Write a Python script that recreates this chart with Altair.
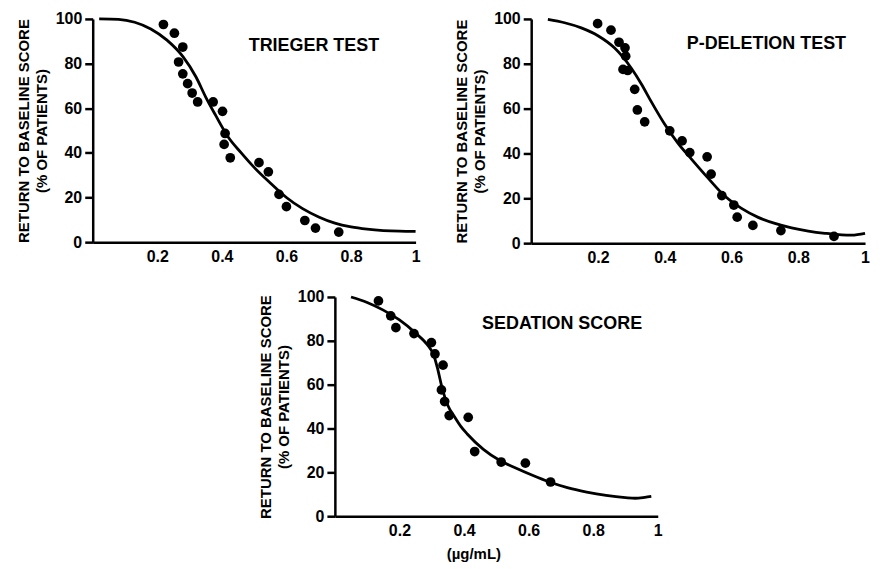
import altair as alt
import pandas as pd

# ---------------- data ----------------
# TRIEGER TEST
trieger_x = [0.219, 0.253, 0.279, 0.266, 0.279, 0.294, 0.308, 0.325, 0.373, 0.402,
             0.410, 0.407, 0.426, 0.515, 0.544, 0.577, 0.600, 0.657, 0.690, 0.762]
trieger_y = [97.5, 93.6, 87.4, 80.7, 75.4, 71.0, 66.8, 62.8, 62.8, 58.6,
             48.7, 43.8, 37.8, 35.6, 31.5, 21.4, 15.9, 9.7, 6.3, 4.5]
trieger_curve_x = [0.02, 0.08, 0.13, 0.18, 0.23, 0.28, 0.32, 0.35, 0.38, 0.42, 0.46,
                   0.50, 0.55, 0.60, 0.65, 0.70, 0.75, 0.80, 0.85, 0.90, 0.95, 1.0]
trieger_curve_y = [100, 99.8, 98.5, 95.5, 90.5, 83, 74, 65, 57, 47, 40,
                   33.5, 26.5, 20, 15, 11.3, 8.5, 6.8, 5.8, 5.2, 4.9, 4.8]

# P-DELETION TEST
pdel_x = [0.199, 0.239, 0.263, 0.281, 0.283, 0.275, 0.289, 0.310, 0.318, 0.340, 0.415,
          0.452, 0.475, 0.527, 0.539, 0.571, 0.607, 0.617, 0.664, 0.748, 0.907]
pdel_y = [97.9, 95.0, 89.6, 87.1, 83.4, 77.5, 77.0, 68.6, 59.4, 54.1, 50.1,
          45.6, 40.4, 38.5, 30.8, 21.2, 17.0, 11.6, 7.9, 5.6, 3.0]
pdel_curve_x = [0.05, 0.10, 0.15, 0.20, 0.25, 0.30, 0.33, 0.36, 0.40, 0.44, 0.48,
                0.53, 0.58, 0.63, 0.68, 0.73, 0.78, 0.83, 0.88, 0.93, 0.96, 1.0]
pdel_curve_y = [99.8, 98.3, 96, 92.5, 87, 78, 71, 63, 53, 44.5, 37.5,
                29, 21, 15.5, 11.5, 8.8, 6.8, 5.4, 4.4, 3.7, 3.6, 4.4]

# SEDATION SCORE
sed_x = [0.135, 0.173, 0.189, 0.245, 0.299, 0.310, 0.335, 0.330, 0.340, 0.354,
         0.413, 0.433, 0.515, 0.590, 0.668]
sed_y = [98.2, 91.4, 86.0, 83.3, 79.2, 74.0, 68.9, 57.6, 52.3, 45.9,
         45.1, 29.5, 24.7, 24.2, 15.6]
sed_curve_x = [0.05, 0.10, 0.15, 0.20, 0.25, 0.29, 0.305, 0.317, 0.333, 0.35, 0.37,
               0.39, 0.41, 0.46, 0.51, 0.56, 0.61, 0.665, 0.72, 0.78, 0.84, 0.90,
               0.93, 0.96, 0.98]
sed_curve_y = [100, 97.5, 94, 89.5, 83.5, 77.5, 74, 68, 58, 50.5, 45.5,
               41, 37.5, 30.5, 25.5, 22, 18.8, 15.6, 13, 11, 9.5, 8.5,
               8.2, 8.6, 9.0]

x_ticks = [0.2, 0.4, 0.6, 0.8, 1]
y_ticks = [0, 20, 40, 60, 80, 100]
y_title = ["RETURN TO BASELINE SCORE", "(% OF PATIENTS)"]
x_title = "(\u00b5g/mL)"

FONT = "Liberation Sans, Arial, Helvetica, sans-serif"


def panel(px, py, cx, cy, label, w, h, lx, ly, xtitle=None, title_x=None):
    pts = pd.DataFrame({"x": px, "y": py})
    crv = pd.DataFrame({"x": cx, "y": cy})
    xs = alt.Scale(domain=[0, 1], nice=False, zero=False)
    ys = alt.Scale(domain=[0, 100], nice=False)
    xaxis_kw = dict(values=x_ticks, format=".1~f", ticks=False, labelPadding=6,
                    labelFlush=False)
    if xtitle:
        xaxis_kw.update(title=xtitle, titlePadding=8)
        if title_x is not None:
            xaxis_kw.update(titleX=title_x)
    else:
        xaxis_kw.update(title=None)
    xaxis = alt.Axis(**xaxis_kw)
    yaxis = alt.Axis(values=y_ticks, title=y_title, tickSize=8, labelPadding=3,
                     titlePadding=6, titleLineHeight=18)
    line = alt.Chart(crv).mark_line(color="black", strokeWidth=2.8,
                                     interpolate="monotone").encode(
        x=alt.X("x:Q", scale=xs, axis=xaxis),
        y=alt.Y("y:Q", scale=ys, axis=yaxis),
    )
    dots = alt.Chart(pts).mark_circle(size=95, color="black", opacity=1).encode(
        x=alt.X("x:Q", scale=xs),
        y=alt.Y("y:Q", scale=ys),
    )
    txt = alt.Chart(pd.DataFrame({"t": [label]})).mark_text(
        font=FONT, fontSize=18, fontWeight="bold", color="black"
    ).encode(text="t:N", x=alt.value(lx), y=alt.value(ly))
    return alt.layer(line, dots, txt).properties(width=w, height=h)


p1 = panel(trieger_x, trieger_y, trieger_curve_x, trieger_curve_y,
           "TRIEGER TEST", 324, 224, 222, 27)
p2 = panel(pdel_x, pdel_y, pdel_curve_x, pdel_curve_y,
           "P-DELETION TEST", 335, 225, 236, 25)
p3 = panel(sed_x, sed_y, sed_curve_x, sed_curve_y,
           "SEDATION SCORE", 324, 220, 228, 27, xtitle=x_title, title_x=139)

spacer = alt.Chart(pd.DataFrame({"v": [0]})).mark_point(opacity=0).encode(
    x=alt.value(0), y=alt.value(0)
).properties(width=243, height=20)

top = alt.hconcat(p1, p2, spacing=116, bounds="flush")
bottom = alt.hconcat(spacer, p3, spacing=0, bounds="flush")

chart = alt.vconcat(top, bottom, spacing=24).properties(
    padding={"left": 8, "top": 2, "right": 5, "bottom": 5}
).configure_view(stroke=None).configure_axis(
    grid=False,
    domainColor="black",
    domainWidth=2.5,
    tickColor="black",
    tickWidth=2.5,
    labelColor="black",
    labelFont=FONT,
    labelFontSize=16,
    labelFontWeight="bold",
    titleColor="black",
    titleFont=FONT,
    titleFontSize=15,
    titleFontWeight="bold",
)

chart.save("out.html", embed_options={"renderer": "svg", "actions": False})
